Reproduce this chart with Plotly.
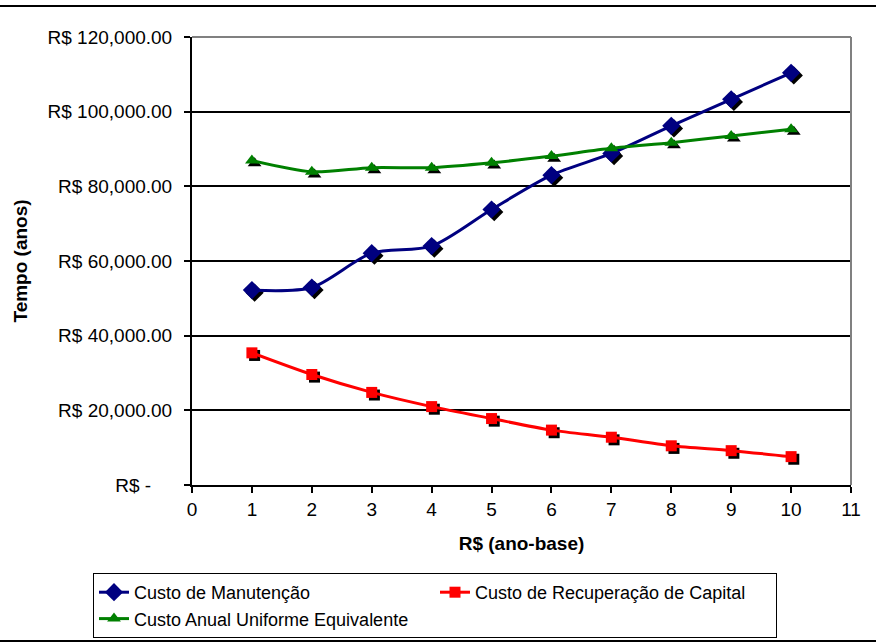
import plotly.graph_objects as go

# Anos do horizonte de análise
anos = [1, 2, 3, 4, 5, 6, 7, 8, 9, 10]

# Séries de custo (R$)
custo_manutencao = [52200, 52900, 62100, 64000, 73800, 83000, 88800, 96200, 103300, 110400]
custo_recuperacao = [35400, 29600, 24800, 21000, 17800, 14700, 12800, 10500, 9200, 7600]
custo_caue = [86900, 83900, 85000, 85000, 86300, 88100, 90200, 91700, 93500, 95300]

# Eixos
y_ticks = [0, 20000, 40000, 60000, 80000, 100000, 120000]
x_ticks = list(range(0, 12))


def formata_reais(v):
    if v == 0:
        return "R$ -\u00a0\u00a0\u00a0\u00a0"
    return "R$ {:,.2f}".format(v)


y_ticktext = [formata_reais(v) for v in y_ticks]

FONT = "Liberation Sans, Arial, sans-serif"
W, H = 876, 644
ML, MR, MT, MB = 192, 25, 37, 159
PW, PH = W - ML - MR, H - MT - MB

series = [
    ("Custo de Manutenção", custo_manutencao, "#000080", "diamond", 14),
    ("Custo de Recuperação de Capital", custo_recuperacao, "#FF0000", "square", 11),
    ("Custo Anual Uniforme Equivalente", custo_caue, "#008000", "triangle-up", 12),
]

fig = go.Figure()

# sombra preta deslocada sob cada marcador
dx, dy = 0.045, 700
for nome, valores, cor, simbolo, tam in series:
    fig.add_trace(go.Scatter(
        x=[a + dx for a in anos], y=[v - dy for v in valores],
        mode="markers", showlegend=False, hoverinfo="skip",
        marker=dict(symbol=simbolo, size=tam, color="black"),
    ))

for nome, valores, cor, simbolo, tam in series:
    fig.add_trace(go.Scatter(
        x=anos, y=valores, name=nome, mode="lines+markers",
        line=dict(color=cor, width=3, shape="spline", smoothing=0.8),
        marker=dict(symbol=simbolo, size=tam, color=cor),
    ))

# bordas da área do gráfico e da área de plotagem
shapes = [
    dict(type="line", xref="paper", yref="paper",
         x0=-ML / PW, x1=(W - ML) / PW, y0=1 + (MT - 6) / PH, y1=1 + (MT - 6) / PH,
         line=dict(color="black", width=2)),
    dict(type="line", xref="paper", yref="paper",
         x0=-ML / PW, x1=(W - ML) / PW, y0=-(641 - (H - MB)) / PH, y1=-(641 - (H - MB)) / PH,
         line=dict(color="black", width=2)),
    dict(type="line", xref="paper", yref="paper", x0=0, x1=1, y0=1, y1=1,
         line=dict(color="#808080", width=2)),
    dict(type="line", xref="paper", yref="paper", x0=1, x1=1, y0=0, y1=1,
         line=dict(color="#808080", width=2)),
]

fig.update_layout(
    width=W, height=H,
    margin=dict(l=ML, r=MR, t=MT, b=MB, autoexpand=False),
    paper_bgcolor="white", plot_bgcolor="white",
    font=dict(family=FONT, size=19, color="black"),
    shapes=shapes,
    showlegend=True,
    legend=dict(
        orientation="h", x=(93 - ML) / PW, xanchor="left",
        y=-(573 - (H - MB)) / PH, yanchor="top",
        entrywidth=296, entrywidthmode="pixels",
        bordercolor="black", borderwidth=1, bgcolor="white",
        font=dict(family=FONT, size=18, color="black"),
        traceorder="normal",
    ),
    xaxis=dict(
        range=[0, 11], tickmode="array", tickvals=x_ticks,
        showgrid=False, zeroline=False,
        showline=True, linecolor="black", linewidth=2,
        ticks="outside", ticklen=6, tickcolor="black", tickwidth=1.5,
        tickfont=dict(family=FONT, size=19),
        title=dict(text="<b>R$ (ano-base)</b>", font=dict(family=FONT, size=19), standoff=18),
        automargin=False,
    ),
    yaxis=dict(
        range=[0, 120000], tickmode="array", tickvals=y_ticks, ticktext=y_ticktext,
        showgrid=True, gridcolor="black", gridwidth=1.5, zeroline=False,
        showline=True, linecolor="black", linewidth=2,
        ticks="outside", ticklen=6, tickcolor="black", tickwidth=1.5,
        tickfont=dict(family=FONT, size=19),
        ticklabelstandoff=8,
        title=dict(text="<b>Tempo (anos)</b>", font=dict(family=FONT, size=19), standoff=15),
        automargin=False,
    ),
)

fig.write_html("out.html")
